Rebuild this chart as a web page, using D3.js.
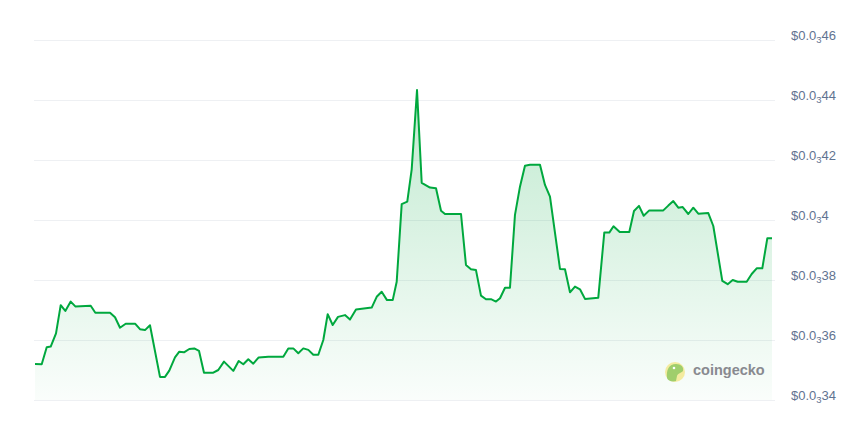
<!DOCTYPE html>
<html>
<head>
<meta charset="utf-8">
<script src="https://cdn.jsdelivr.net/npm/d3@7"></script>
<style>
  html, body { margin: 0; padding: 0; background: #ffffff; }
  svg { display: block; }
</style>
</head>
<body>
<svg id="chart" width="848" height="430"></svg>
<script>
// ---- data (hours since start, price in USD) ----
const hours = [0, 1.53, 2.67, 3.58, 4.79, 5.86, 6.91, 8.14, 9.19, 12.70, 13.75, 17.10, 18.24, 19.38, 20.67, 22.86,
  23.93, 25.07, 26.21, 28.49, 29.63, 30.61, 31.91, 32.89, 33.96, 35.17, 36.31, 37.38, 38.52, 40.64, 41.78, 43.08,
  45.20, 46.43, 47.48, 48.62, 49.76, 50.99, 53.18, 56.60, 57.74, 58.88, 60.02, 61.16, 62.30, 63.44, 64.58, 65.72,
  66.72, 67.86, 69.07, 70.66, 71.80, 73.17, 76.75, 77.89, 79.03, 80.24, 81.54, 82.45, 83.59, 84.86, 85.87, 87.08,
  88.15, 90.04, 91.41, 92.55, 93.46, 97.11, 98.24, 99.38, 100.52, 101.66, 102.80, 103.94, 105.08, 106.00, 107.14,
  108.27, 109.41, 110.55, 111.69, 112.83, 115.11, 116.25, 117.39, 119.67, 120.81, 121.95, 123.09, 124.23, 125.37,
  128.40, 129.77, 130.91, 131.87, 133.28, 135.47, 136.54, 137.68, 138.75, 140.03, 143.22, 144.36, 145.50, 146.64,
  147.64, 148.92, 150.06, 151.20, 153.48, 154.62, 156.67, 157.90, 159.04, 160.18, 162.23, 163.37, 164.51, 165.79,
  166.93, 168];
const prices = [0.0003520, 0.0003519, 0.0003576, 0.0003578, 0.0003622, 0.0003716, 0.0003697, 0.0003728, 0.0003712,
  0.0003714, 0.0003691, 0.0003691, 0.0003676, 0.0003641, 0.0003654, 0.0003654, 0.0003636, 0.0003633, 0.0003649,
  0.0003477, 0.0003477, 0.0003498, 0.0003542, 0.0003561, 0.0003559, 0.0003570, 0.0003572, 0.0003564, 0.0003491,
  0.0003491, 0.0003500, 0.0003528, 0.0003497, 0.0003530, 0.0003519, 0.0003536, 0.0003521, 0.0003542, 0.0003544,
  0.0003544, 0.0003572, 0.0003572, 0.0003556, 0.0003572, 0.0003567, 0.0003551, 0.0003551, 0.0003600, 0.0003686,
  0.0003650, 0.0003677, 0.0003683, 0.0003668, 0.0003702, 0.0003708, 0.0003744, 0.0003761, 0.0003733, 0.0003733,
  0.0003794, 0.0004053, 0.0004061, 0.0004169, 0.0004433, 0.0004124, 0.0004108, 0.0004106, 0.0004031, 0.0004020,
  0.0004020, 0.0003850, 0.0003836, 0.0003833, 0.0003748, 0.0003736, 0.0003736, 0.0003728, 0.0003739, 0.0003774,
  0.0003774, 0.0004017, 0.0004111, 0.0004181, 0.0004184, 0.0004184, 0.0004117, 0.0004078, 0.0003837, 0.0003836,
  0.0003759, 0.0003778, 0.0003769, 0.0003737, 0.0003741, 0.0003958, 0.0003958, 0.0003979, 0.0003960, 0.0003960,
  0.0004030, 0.0004047, 0.0004014, 0.0004032, 0.0004032, 0.0004048, 0.0004063, 0.0004041, 0.0004043, 0.0004020,
  0.0004041, 0.0004021, 0.0004023, 0.0003980, 0.0003797, 0.0003786, 0.0003800, 0.0003794, 0.0003794, 0.0003820,
  0.0003839, 0.0003839, 0.0003939, 0.0003939];
const yTicks = [0.00034, 0.00036, 0.00038, 0.00040, 0.00042, 0.00044, 0.00046];

// ---- layout ----
const svg = d3.select("#chart");
const plotLeft = 35, plotRight = 772, gridLeft = 34, gridRight = 775;
const plotTop = 40, plotBottom = 400;

const x = d3.scaleLinear().domain([0, 168]).range([plotLeft, plotRight]);
const y = d3.scaleLinear().domain([0.00034, 0.00046]).range([plotBottom, plotTop]);

const data = hours.map((h, i) => ({ h, p: prices[i] }));

// gradient
const defs = svg.append("defs");
const grad = defs.append("linearGradient")
  .attr("id", "areaGrad").attr("gradientUnits", "userSpaceOnUse")
  .attr("x1", 0).attr("x2", 0).attr("y1", y(0.00044)).attr("y2", plotBottom);
grad.append("stop").attr("offset", "0%").attr("stop-color", "#00a83e").attr("stop-opacity", 0.24);
grad.append("stop").attr("offset", "100%").attr("stop-color", "#00a83e").attr("stop-opacity", 0.02);

// gridlines
svg.append("g")
  .attr("transform", `translate(${gridLeft},0)`)
  .call(d3.axisLeft(y).tickValues(yTicks).tickSize(-(gridRight - gridLeft)).tickFormat(""))
  .call(g => g.select(".domain").remove())
  .call(g => g.selectAll("line").attr("stroke", "#eef0f3").attr("stroke-width", 1));

// area + line
svg.append("path")
  .datum(data)
  .attr("fill", "url(#areaGrad)")
  .attr("d", d3.area().x(d => x(d.h)).y0(plotBottom).y1(d => y(d.p)));

svg.append("path")
  .datum(data)
  .attr("fill", "none")
  .attr("stroke", "#00a83e")
  .attr("stroke-width", 2)
  .attr("stroke-linejoin", "round")
  .attr("d", d3.line().x(d => x(d.h)).y(d => y(d.p)));

// y-axis labels with subscript zero count
function splitPrice(v) {
  const s = v.toFixed(10).replace(/0+$/, "");
  const dec = s.split(".")[1];
  const zeros = dec.match(/^0*/)[0].length;
  return { zeros, digits: dec.slice(zeros) };
}
const axis = svg.append("g")
  .attr("transform", `translate(791,0)`)
  .call(d3.axisRight(y).tickValues(yTicks).tickSize(0).tickPadding(0).tickFormat(""))
  .call(g => g.select(".domain").remove());
axis.selectAll(".tick text").each(function(d) {
  const t = d3.select(this);
  const sp = splitPrice(d);
  t.attr("x", 0).attr("dy", null).attr("y", -3.5)
    .attr("dominant-baseline", "middle")
    .attr("fill", "#5f7391")
    .attr("font-family", "'Liberation Sans', Arial, sans-serif")
    .attr("font-size", 13)
    .attr("text-anchor", "start");
  t.text(null);
  t.append("tspan").text("$0.0");
  t.append("tspan").attr("font-size", 9.5).attr("dy", 3).text(sp.zeros);
  t.append("tspan").attr("dy", -3).text(sp.digits);
});

// watermark
const wm = svg.append("g").attr("opacity", 0.8);
wm.append("circle").attr("cx", 675).attr("cy", 372).attr("r", 10).attr("fill", "#f4e88a");
wm.append("path")
  .attr("d", "M667,378 C666,370 669,364 676,364 C681,364 684,367 683,371 C681,373 678,373 677,376 L676,381 C672,382 668,381 667,378 Z")
  .attr("fill", "#8bc34a");
wm.append("circle").attr("cx", 674).attr("cy", 368).attr("r", 1.3).attr("fill", "#ffffff");
wm.append("text")
  .attr("x", 693).attr("y", 371)
  .attr("dominant-baseline", "middle")
  .attr("font-family", "'Liberation Sans', Arial, sans-serif")
  .attr("font-weight", "bold")
  .attr("font-size", 14.5)
  .attr("fill", "#6e6e76")
  .text("coingecko");
</script>
</body>
</html>
